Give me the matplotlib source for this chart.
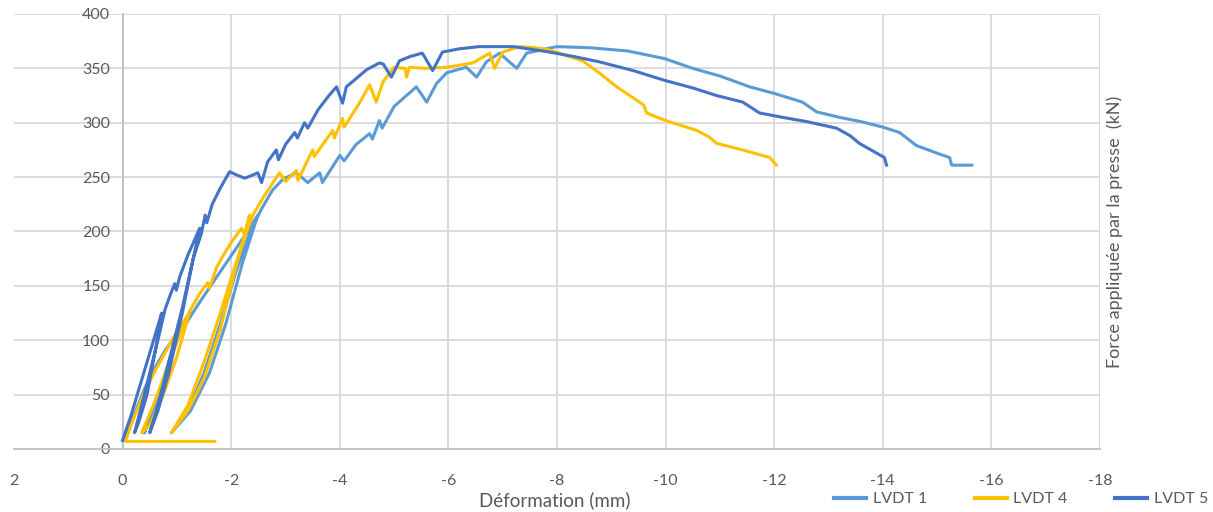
import matplotlib
matplotlib.use('Agg')
import matplotlib.pyplot as plt
import numpy as np

# Données (déformation en mm, force en kN)
lvdt1_x = [0, -0.2, -0.4, -0.6, -0.8, -1.0,
           -0.8, -0.6, -0.4,
           -0.6, -0.85, -1.05, -1.2, -1.42, -1.73, -2.03, -2.3, -2.49,
           -2.2, -1.9, -1.6, -1.25, -0.9,
           -1.2, -1.5, -1.8, -2.1, -2.35, -2.55, -2.76, -2.95, -3.2, -3.41, -3.63, -3.68,
           -4.0, -4.08, -4.3, -4.55, -4.6, -4.73, -4.78, -5.0, -5.41, -5.6, -5.78, -5.97,
           -6.33, -6.52, -6.7, -6.94, -7.26, -7.44, -7.8, -8.0, -8.6, -9.3, -9.98, -10.5,
           -11.0, -11.55, -12.0, -12.52, -12.78, -13.2, -13.6, -14.0, -14.31, -14.62,
           -15.0, -15.23, -15.27, -15.64]
lvdt1_y = [8, 30, 55, 75, 92, 105,
           70, 40, 15,
           40, 80, 105, 118, 135, 158, 180, 200, 215,
           170, 115, 70, 35, 15,
           35, 70, 115, 165, 200, 220, 238, 248, 254, 245, 254, 245,
           270, 265, 280, 290, 285, 302, 295, 315, 333, 319, 336, 346,
           351, 342, 356, 364, 350, 364, 368, 370, 369, 366, 359, 350,
           343, 333, 327, 319, 310, 305, 301, 296, 291, 279,
           272, 268, 261, 261]

lvdt4_x = [-1.7, -0.05,
           -0.2, -0.4, -0.6, -0.8, -1.0, -1.23,
           -1.0, -0.75, -0.5, -0.35,
           -0.55, -0.8, -1.05, -1.25, -1.42, -1.57, -1.6, -1.65, -1.73, -1.9, -2.03,
           -2.19, -2.25, -2.34,
           -2.1, -1.8, -1.5, -1.2, -0.9,
           -1.2, -1.5, -1.8, -2.05, -2.25, -2.4, -2.6, -2.89, -3.0, -3.2, -3.23,
           -3.5, -3.53, -3.87, -3.9, -4.05, -4.08, -4.36, -4.55, -4.67, -4.8, -4.92,
           -5.0, -5.2, -5.23, -5.28, -5.6, -5.97, -6.45, -6.76, -6.85, -7.0, -7.31,
           -7.6, -7.86, -8.15, -8.47, -8.8, -9.1, -9.52, -9.6, -9.65, -10.0, -10.57,
           -10.8, -10.94, -11.42, -11.92, -12.04]
lvdt4_y = [7, 7,
           28, 52, 72, 90, 108, 125,
           85, 50, 22, 15,
           38, 72, 105, 128, 143, 153, 148, 155, 167, 182, 192,
           203, 197, 215,
           170, 110, 65, 35, 15,
           40, 80, 125, 165, 195, 215, 232, 254, 246, 256, 247,
           275, 269, 293, 286, 304, 296, 318, 335, 319, 338, 346,
           351, 350, 342, 351, 350, 351, 355, 364, 350, 365, 370,
           369, 367, 362, 357, 345, 333, 319, 316, 309, 302, 293,
           287, 281, 275, 268, 261]

lvdt5_x = [0, -0.15, -0.3, -0.45, -0.6, -0.72,
           -0.6, -0.45, -0.3, -0.22,
           -0.35, -0.5, -0.65, -0.78, -0.88, -0.96, -0.99, -1.05, -1.2, -1.42,
           -1.3, -1.1, -0.85, -0.65, -0.5,
           -0.65, -0.85, -1.1, -1.3, -1.45, -1.52, -1.55, -1.65, -1.8, -1.97,
           -2.1, -2.25, -2.4, -2.49, -2.56, -2.67, -2.83, -2.87, -3.0, -3.17, -3.22,
           -3.35, -3.41, -3.6, -3.8, -3.94, -4.05, -4.12, -4.31, -4.5, -4.73, -4.8,
           -4.95, -5.1, -5.3, -5.52, -5.71, -5.89, -6.2, -6.57, -7.2, -7.86, -8.3,
           -8.78, -9.4, -9.98, -10.5, -10.94, -11.42, -11.73, -12.15, -12.6, -13.15,
           -13.4, -13.57, -14.03, -14.07]
lvdt5_y = [8, 30, 55, 80, 105, 125,
           90, 50, 25, 15,
           40, 70, 100, 128, 142, 152, 146, 158, 178, 203,
           175, 125, 70, 35, 15,
           40, 80, 130, 175, 198, 215, 208, 225, 240, 255,
           252, 249, 252, 254, 245, 264, 275, 266, 280, 291, 286,
           300, 295, 312, 325, 333, 318, 333, 341, 349, 355, 354,
           342, 357, 361, 364, 348, 365, 368, 370, 370, 365, 361,
           356, 348, 339, 332, 325, 319, 309, 305, 301, 295,
           288, 281, 268, 261]

series = ['LVDT 1', 'LVDT 4', 'LVDT 5']
colors = ['#5B9BD5', '#FFC000', '#4472C4']
x_ticks = [2, 0, -2, -4, -6, -8, -10, -12, -14, -16, -18]
y_ticks = [0, 50, 100, 150, 200, 250, 300, 350, 400]

plt.rcParams['font.family'] = ['Lato', 'DejaVu Sans']
grey = '#595959'

fig = plt.figure(figsize=(12.13, 5.12), dpi=100)
ax = fig.add_axes([14 / 1213, 63 / 512, 1086 / 1213, 435 / 512])

for lab, xs, ys, c in zip(series, [lvdt1_x, lvdt4_x, lvdt5_x],
                          [lvdt1_y, lvdt4_y, lvdt5_y], colors):
    ax.plot(xs, ys, color=c, lw=2.2, label=lab, solid_joinstyle='round')

ax.set_xlim(2, -18)
ax.set_ylim(0, 400)
ax.set_xticks(x_ticks)
ax.set_yticks(y_ticks)

# grille
for xv in x_ticks[1:]:
    ax.axvline(xv, color='#D9D9D9', lw=1.3, zorder=0)
for yv in y_ticks[1:]:
    ax.axhline(yv, color='#D9D9D9', lw=1.3, zorder=0)

for s in ['top', 'right']:
    ax.spines[s].set_visible(False)
ax.spines['left'].set_position(('data', 0))
ax.spines['left'].set_color('#BFBFBF')
ax.spines['left'].set_linewidth(1.3)
ax.spines['bottom'].set_color('#BFBFBF')
ax.spines['bottom'].set_linewidth(1.3)
ax.spines['left'].set_zorder(0)

ax.tick_params(axis='x', length=0, pad=18, labelsize=11.5, labelcolor=grey)
ax.tick_params(axis='y', length=0, pad=9, labelsize=11.5, labelcolor=grey)
ax.set_xticklabels([str(v) for v in x_ticks])

ax.text(1.006, 0.5, 'Force appliquée par la presse  (kN)', transform=ax.transAxes,
        rotation=90, ha='left', va='center', fontsize=13, color=grey)
fig.text(555 / 1213, 1 - 500 / 512, 'Déformation (mm)', ha='center', va='center',
         fontsize=13.5, color=grey)

leg = fig.legend(loc='center right', bbox_to_anchor=(1208 / 1213, 1 - 499 / 512), ncol=3,
                 frameon=False, fontsize=11.5, handlelength=2.0, columnspacing=3.0,
                 handletextpad=0.4, borderpad=0, borderaxespad=0)
for t in leg.get_texts():
    t.set_color(grey)
for h in leg.get_lines():
    h.set_linewidth(3)

fig.savefig('out.png', dpi=100)
